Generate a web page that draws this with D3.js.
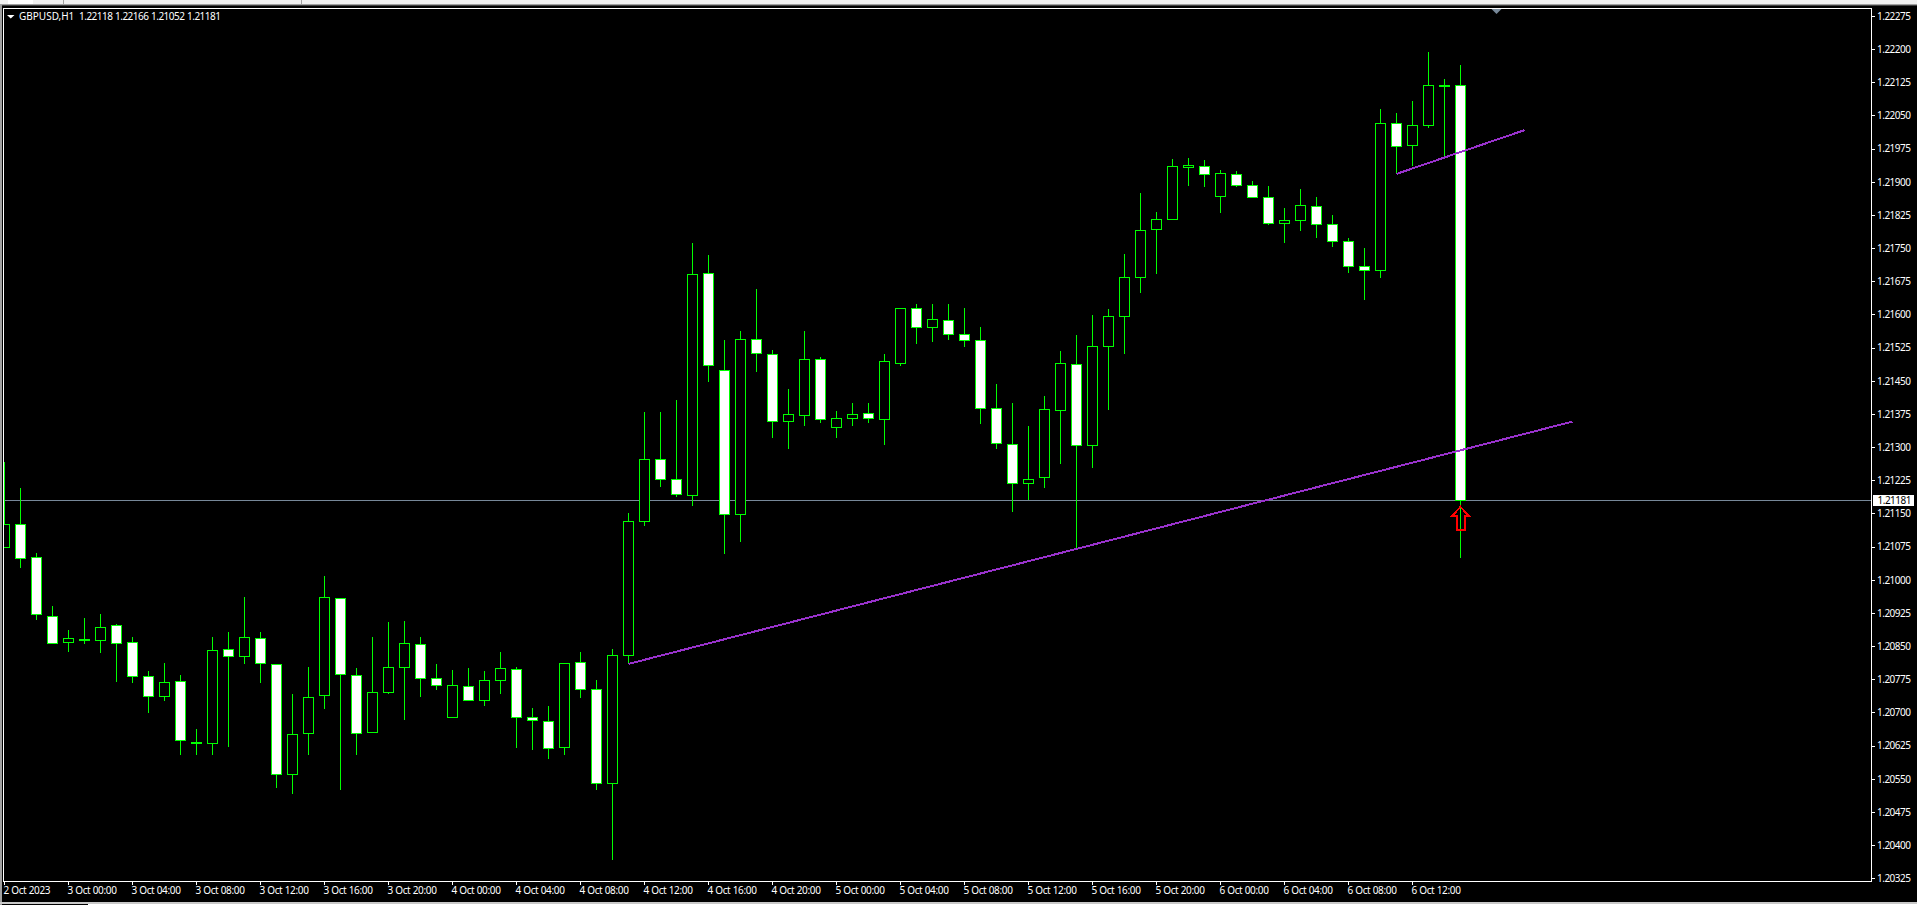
<!DOCTYPE html>
<html lang="en">
<head>
<meta charset="UTF-8">
<title>GBPUSD,H1</title>
<script src="https://cdn.jsdelivr.net/npm/d3@7"></script>
<style>
  html, body { margin: 0; padding: 0; background: #000; overflow: hidden; }
  svg { display: block; }
  text { font-family: "Noto Sans", Roboto, sans-serif; fill: #fff; }
</style>
</head>
<body>
<div id="container"></div>
<script>
// hourly bars, first one is 2 Oct 2023 20:00
const opens = [
  1.21074,1.21127,1.21052,1.20919,1.20859,1.20863,1.20863,1.20898,1.20860,1.20782,
  1.20737,1.20772,1.20631,1.20631,1.20844,1.20827,1.20869,1.20810,1.20560,1.20653,
  1.20739,1.20959,1.20785,1.20655,1.20746,1.20803,1.20855,1.20778,1.20689,1.20760,
  1.20728,1.20773,1.20799,1.20690,1.20681,1.20622,1.20814,1.20753,1.20540,1.20830,
  1.21133,1.21274,1.21228,1.21192,1.21694,1.21475,1.21149,1.21545,1.21511,1.21359,
  1.21372,1.21500,1.21345,1.21366,1.21378,1.21363,1.21490,1.21615,1.21571,1.21588,
  1.21556,1.21543,1.21388,1.21308,1.21219,1.21232,1.21384,1.21489,1.21305,1.21528,
  1.21596,1.21684,1.21793,1.21816,1.21933,1.21936,1.21868,1.21918,1.21893,1.21866,
  1.21807,1.21813,1.21846,1.21805,1.21767,1.21710,1.21700,1.22033,1.21983,1.22028,
  1.22116,1.22118];
const highs = [
  1.21268,1.21210,1.21062,1.20944,1.20888,1.20917,1.20925,1.20903,1.20874,1.20797,
  1.20815,1.20786,1.20666,1.20874,1.20885,1.20964,1.20885,1.20813,1.20743,1.20804,
  1.21012,1.20959,1.20802,1.20872,1.20906,1.20910,1.20874,1.20813,1.20799,1.20802,
  1.20797,1.20840,1.20806,1.20713,1.20718,1.20815,1.20840,1.20775,1.20845,1.21154,
  1.21381,1.21381,1.21408,1.21764,1.21736,1.21544,1.21566,1.21659,1.21521,1.21433,
  1.21564,1.21507,1.21385,1.21401,1.21401,1.21512,1.21618,1.21625,1.21627,1.21627,
  1.21616,1.21575,1.21444,1.21403,1.21349,1.21419,1.21519,1.21557,1.21600,1.21614,
  1.21738,1.21876,1.21833,1.21953,1.21957,1.21951,1.21930,1.21926,1.21905,1.21892,
  1.21842,1.21887,1.21869,1.21828,1.21776,1.21752,1.22066,1.22059,1.22084,1.22195,
  1.22134,1.22166];
const lows = [
  1.21074,1.21030,1.20912,1.20857,1.20838,1.20856,1.20836,1.20772,1.20770,1.20702,
  1.20729,1.20605,1.20607,1.20607,1.20625,1.20811,1.20770,1.20532,1.20517,1.20605,
  1.20709,1.20526,1.20607,1.20655,1.20743,1.20686,1.20738,1.20752,1.20689,1.20728,
  1.20716,1.20743,1.20623,1.20618,1.20598,1.20605,1.20736,1.20526,1.20368,1.20811,
  1.21123,1.21212,1.21189,1.21170,1.21449,1.21060,1.21087,1.21473,1.21324,1.21299,
  1.21349,1.21358,1.21322,1.21349,1.21356,1.21308,1.21485,1.21535,1.21541,1.21544,
  1.21528,1.21354,1.21297,1.21155,1.21182,1.21211,1.21265,1.21072,1.21254,1.21387,
  1.21514,1.21650,1.21693,1.21816,1.21892,1.21890,1.21831,1.21890,1.21865,1.21804,
  1.21765,1.21790,1.21776,1.21756,1.21695,1.21636,1.21684,1.21919,1.21937,1.22023,
  1.21957,1.21052];
const closes = [
  1.21127,1.21049,1.20922,1.20857,1.20869,1.20867,1.20894,1.20857,1.20782,1.20737,
  1.20769,1.20637,1.20634,1.20842,1.20827,1.20871,1.20811,1.20560,1.20652,1.20735,
  1.20961,1.20787,1.20653,1.20747,1.20803,1.20857,1.20778,1.20762,1.20762,1.20728,
  1.20774,1.20801,1.20689,1.20683,1.20619,1.20812,1.20753,1.20540,1.20830,1.21133,
  1.21274,1.21228,1.21194,1.21692,1.21486,1.21149,1.21545,1.21513,1.21359,1.21375,
  1.21500,1.21363,1.21366,1.21375,1.21366,1.21495,1.21615,1.21571,1.21590,1.21556,
  1.21542,1.21388,1.21309,1.21219,1.21228,1.21387,1.21491,1.21305,1.21529,1.21597,
  1.21685,1.21792,1.21816,1.21936,1.21937,1.21917,1.21920,1.21893,1.21865,1.21807,
  1.21814,1.21848,1.21804,1.21766,1.21709,1.21700,1.22033,1.21981,1.22029,1.22119,
  1.22119,1.21181];

const dateLabels = [
  "2 Oct 2023","3 Oct 00:00","3 Oct 04:00","3 Oct 08:00","3 Oct 12:00","3 Oct 16:00","3 Oct 20:00",
  "4 Oct 00:00","4 Oct 04:00","4 Oct 08:00","4 Oct 12:00","4 Oct 16:00","4 Oct 20:00",
  "5 Oct 00:00","5 Oct 04:00","5 Oct 08:00","5 Oct 12:00","5 Oct 16:00","5 Oct 20:00",
  "6 Oct 00:00","6 Oct 04:00","6 Oct 08:00","6 Oct 12:00"];
const priceTicks = [
  1.22275,1.22200,1.22125,1.22050,1.21975,1.21900,1.21825,1.21750,1.21675,
  1.21600,1.21525,1.21450,1.21375,1.21300,1.21225,1.21150,1.21075,1.21000,
  1.20925,1.20850,1.20775,1.20700,1.20625,1.20550,1.20475,1.20400,1.20325];

// trendlines as [bar, price] ends
const trendLow = [[39, 1.20811], [98, 1.21359]];
const trendHigh = [[87, 1.21919], [95, 1.22018]];
const bidPrice = 1.21181;
const arrowBar = 91, arrowPrice = 1.21166;
const symbol = "GBPUSD,H1";
const ohlcLast = ["1.22118", "1.22166", "1.21052", "1.21181"];

const width = 1917, height = 905;
const frame = {left: 3.5, top: 8.5, right: 1871.5, bottom: 881.5};
const green = "#00ff00", slate = "#778899", purple = "#9932cc";
const fontSize = 10;
const priceSpacing = "-0.5px", dateSpacing = "-0.33px";

const x = d3.scaleLinear().domain([0, 91]).range([4.5, 1460.5]);
const y = d3.scaleLinear().domain([1.22275, 1.20325]).range([16.5, 878.8]);
const py = p => Math.floor(y(p)) + 0.5;

const svg = d3.select("#container").append("svg")
  .attr("width", width)
  .attr("height", height)
  .attr("viewBox", [0, 0, width, height]);

svg.append("rect").attr("width", width).attr("height", height).attr("fill", "#000");

// window edges around the chart
const chrome = svg.append("g").attr("shape-rendering", "crispEdges");
chrome.append("rect").attr("width", width).attr("height", 4).attr("fill", "#f0f0f0");
chrome.append("rect").attr("y", 4).attr("width", width).attr("height", 1).attr("fill", "#a0a0a0");
chrome.append("rect").attr("y", 5).attr("width", width).attr("height", 1).attr("fill", "#404040");
chrome.append("rect").attr("x", 8).attr("width", 25).attr("height", 4).attr("fill", "#fff");
[63, 301].forEach(d => chrome.append("rect").attr("x", d).attr("width", 1).attr("height", 4).attr("fill", "#a0a0a0"));
chrome.append("rect").attr("y", 5).attr("width", 2).attr("height", height - 5).attr("fill", "#a0a0a0");
chrome.append("rect").attr("y", 902).attr("width", width).attr("height", 2).attr("fill", "#c8c8c8");
chrome.append("rect").attr("x", 88).attr("y", 904).attr("width", width - 88).attr("height", 1).attr("fill", "#fff");

svg.append("defs").append("clipPath").attr("id", "plot")
  .append("rect")
  .attr("x", frame.left).attr("y", frame.top)
  .attr("width", frame.right - frame.left).attr("height", frame.bottom - frame.top);

const plot = svg.append("g").attr("clip-path", "url(#plot)").attr("shape-rendering", "crispEdges");

// bid line sits behind the candles
plot.append("line")
  .attr("x1", frame.left).attr("x2", frame.right)
  .attr("y1", py(bidPrice)).attr("y2", py(bidPrice))
  .attr("stroke", slate);

const bars = d3.range(opens.length);

plot.append("g").selectAll("line").data(bars).join("line")
  .attr("x1", i => x(i)).attr("x2", i => x(i))
  .attr("y1", i => py(highs[i])).attr("y2", i => py(lows[i]) + 0.5)
  .attr("stroke", green);

plot.append("g").selectAll("rect").data(bars).join("rect")
  .attr("x", i => x(i) - 5)
  .attr("width", 10)
  .attr("y", i => py(Math.max(opens[i], closes[i])))
  .attr("height", i => Math.max(1, py(Math.min(opens[i], closes[i])) - py(Math.max(opens[i], closes[i]))))
  .attr("fill", i => closes[i] < opens[i] ? "#fff" : "#000")
  .attr("stroke", green);

const trend = d3.line().x(d => x(d[0])).y(d => y(d[1]));
plot.selectAll("path.trend").data([trendLow, trendHigh]).join("path")
  .attr("class", "trend")
  .attr("d", trend)
  .attr("fill", "none")
  .attr("stroke", purple)
  .attr("stroke-width", 2);

// up arrow object under the last bar
plot.append("path")
  .attr("transform", `translate(${x(arrowBar)},${y(arrowPrice)})`)
  .attr("d", "M0,0L9,9.5H4V23.5H-4V9.5H-9Z")
  .attr("fill", "none")
  .attr("stroke", "#ff0000")
  .attr("stroke-width", 2);

// chart shift marker
svg.append("path")
  .attr("d", "M1491.5,9H1501.5L1496.5,14Z")
  .attr("fill", slate);

// frame
svg.append("rect")
  .attr("x", frame.left).attr("y", frame.top)
  .attr("width", frame.right - frame.left).attr("height", frame.bottom - frame.top)
  .attr("fill", "none").attr("stroke", "#fff")
  .attr("shape-rendering", "crispEdges");

const yAxis = d3.axisRight(y)
  .tickValues(priceTicks)
  .tickFormat(d3.format(".5f"))
  .tickSize(3)
  .tickPadding(2)
  .offset(0);
svg.append("g")
  .attr("transform", `translate(${frame.right + 0.5},0)`)
  .call(yAxis)
  .call(g => g.select(".domain").remove())
  .call(g => g.selectAll("line").attr("stroke", "#fff").attr("shape-rendering", "crispEdges"))
  .call(g => g.selectAll("text")
    .attr("font-size", fontSize).attr("letter-spacing", priceSpacing).attr("fill", "#fff"));

const xAxis = d3.axisBottom(x)
  .tickValues(dateLabels.map((d, k) => k * 4))
  .tickFormat((d, k) => dateLabels[k])
  .tickSize(3)
  .offset(0);
svg.append("g")
  .attr("transform", `translate(0,${frame.bottom + 0.5})`)
  .call(xAxis)
  .call(g => g.select(".domain").remove())
  .call(g => g.selectAll("line").attr("stroke", "#fff").attr("shape-rendering", "crispEdges"))
  .call(g => g.selectAll("text")
    .attr("text-anchor", "start").attr("x", -1).attr("y", 5).attr("dy", "0.71em")
    .attr("font-size", fontSize).attr("letter-spacing", dateSpacing).attr("fill", "#fff"));

// last price tag on the axis
const tag = svg.append("g").attr("transform", `translate(1873,${py(bidPrice)})`);
tag.append("rect").attr("y", -5.5).attr("width", 41).attr("height", 11).attr("fill", "#fff")
  .attr("shape-rendering", "crispEdges");
tag.append("text").attr("x", 4.5).attr("dy", "0.34em")
  .attr("font-size", fontSize).attr("letter-spacing", priceSpacing).style("fill", "#000")
  .text(d3.format(".5f")(bidPrice));

// header line
svg.append("path").attr("d", "M7,15H14.5L10.75,18.5Z").attr("fill", "#fff");
const header = svg.append("g").attr("font-size", fontSize).attr("transform", "translate(0,20)");
header.append("text").attr("x", 19).text(symbol);
header.selectAll("text.ohlc").data(ohlcLast).join("text")
  .attr("class", "ohlc")
  .attr("x", (d, k) => 79 + k * 36)
  .attr("letter-spacing", priceSpacing)
  .text(d => d);
</script>
</body>
</html>
